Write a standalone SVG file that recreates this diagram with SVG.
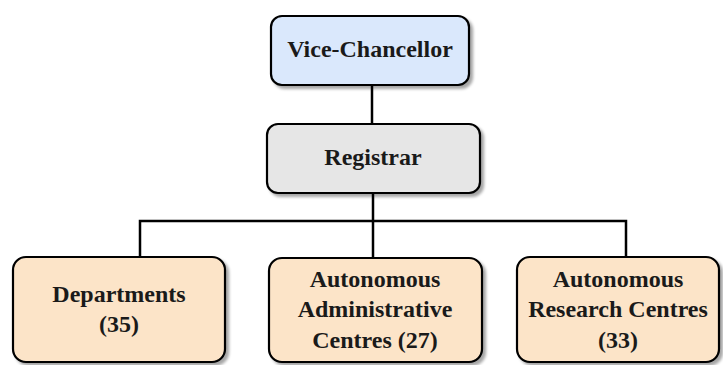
<svg xmlns="http://www.w3.org/2000/svg" width="723" height="365" viewBox="0 0 723 365">
  <defs>
    <filter id="shadow" x="-10%" y="-10%" width="125%" height="130%">
      <feGaussianBlur in="SourceAlpha" stdDeviation="1.5"/>
      <feOffset dx="3" dy="3" result="off"/>
      <feComponentTransfer><feFuncA type="linear" slope="0.35"/></feComponentTransfer>
      <feMerge><feMergeNode/><feMergeNode in="SourceGraphic"/></feMerge>
    </filter>
  </defs>
  <style>
    .box { stroke: #000; stroke-width: 2.2; filter: url(#shadow); }
    .blue { fill: #dae8fc; }
    .grey { fill: #e6e6e6; }
    .orange { fill: #fce4c8; }
    .label { font-family: "Liberation Serif", "Times New Roman", serif; font-weight: bold; font-size: 24px; fill: #1a1a1a; text-anchor: middle; }
    .link { fill: none; stroke: #000; stroke-width: 2.5; }
  </style>
  <rect width="723" height="365" fill="#fff"/>

  <g id="connectors">
    <line class="link" x1="372" y1="85" x2="372" y2="124"/>
    <line class="link" x1="373" y1="193" x2="373" y2="258"/>
    <polyline class="link" points="140,257 140,221 626,221 626,257"/>
  </g>

  <g id="vice-chancellor">
    <rect class="box blue" x="271" y="16" width="198" height="69" rx="11"/>
    <text class="label" x="370" y="57">Vice-Chancellor</text>
  </g>

  <g id="registrar">
    <rect class="box grey" x="267" y="124" width="213" height="69" rx="11"/>
    <text class="label" x="373" y="165">Registrar</text>
  </g>

  <g id="departments">
    <rect class="box orange" x="13" y="257" width="212" height="105" rx="13"/>
    <text class="label" x="119" y="302">Departments</text>
    <text class="label" x="119" y="332">(35)</text>
  </g>

  <g id="admin-centres">
    <rect class="box orange" x="269" y="258" width="213" height="104" rx="13"/>
    <text class="label" x="375" y="287">Autonomous</text>
    <text class="label" x="375" y="317">Administrative</text>
    <text class="label" x="375" y="348">Centres (27)</text>
  </g>

  <g id="research-centres">
    <rect class="box orange" x="517" y="257" width="202" height="105" rx="13"/>
    <text class="label" x="618" y="287">Autonomous</text>
    <text class="label" x="618" y="317">Research Centres</text>
    <text class="label" x="618" y="348">(33)</text>
  </g>
</svg>
